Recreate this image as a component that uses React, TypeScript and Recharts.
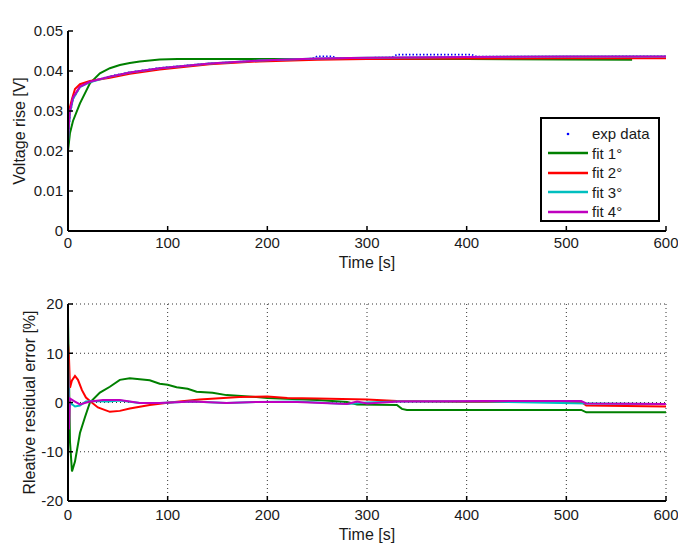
import { LineChart, Line, XAxis, YAxis, CartesianGrid, Legend } from 'recharts';

const FONT = '"Liberation Sans", Arial, sans-serif';
const INK = '#1a1a1a';

const title = 'Thinergy - Fit test - Discharge 1C 10%';
const xTicks = [0, 100, 200, 300, 400, 500, 600];
const voltTicks = [0, 0.01, 0.02, 0.03, 0.04, 0.05];
const errTicks = [-20, -10, 0, 10, 20];

const seriesNames = ['exp data', 'fit 1°', 'fit 2°', 'fit 3°', 'fit 4°'];
const seriesColors = ['#0000ff', '#008000', '#ff0000', '#00bfbf', '#bf00bf'];

// ---- top: voltage rise [V] vs time [s]
const expT = [0, 2, 5, 12, 22, 42, 62, 92, 142, 192, 245, 250, 265, 270, 325, 330, 405, 410, 500, 600];
const expV = [0.022, 0.029, 0.033, 0.036, 0.0373, 0.0387, 0.0397, 0.0408, 0.0419, 0.0426, 0.0431, 0.0437, 0.0437, 0.0432, 0.0434, 0.0441, 0.0441, 0.0436, 0.0436, 0.0437];

const fit1T = [0, 2, 5, 12, 22, 32, 42, 52, 62, 72, 92, 110, 150, 200, 300, 400, 500, 566];
const fit1V = [0.02, 0.0245, 0.0275, 0.0319, 0.0369, 0.0394, 0.0407, 0.0415, 0.042, 0.0424, 0.0429, 0.043, 0.043, 0.043, 0.043, 0.043, 0.0429, 0.0428];

const fit2T = [0, 1, 2, 4, 7, 12, 22, 42, 62, 92, 142, 192, 250, 300, 400, 500, 600];
const fit2V = [0.025, 0.029, 0.031, 0.033, 0.0355, 0.0367, 0.0375, 0.0383, 0.0393, 0.0404, 0.0417, 0.0424, 0.0428, 0.043, 0.0431, 0.0432, 0.0432];

const fit3T = [0, 1, 2, 5, 12, 22, 42, 62, 92, 142, 192, 250, 300, 400, 500, 600];
const fit3V = [0.022, 0.0265, 0.0295, 0.033, 0.036, 0.0372, 0.0386, 0.0396, 0.0407, 0.0419, 0.0426, 0.0431, 0.0433, 0.0435, 0.0436, 0.0436];

const fit4T = [0, 1, 2, 5, 12, 22, 42, 62, 92, 142, 192, 250, 300, 400, 500, 600];
const fit4V = [0.0225, 0.027, 0.03, 0.0334, 0.0361, 0.0373, 0.0386, 0.0396, 0.0407, 0.0419, 0.0426, 0.0431, 0.0433, 0.0435, 0.0436, 0.0436];

// ---- bottom: relative residual error [%] vs time [s]
const err1T = [0, 1, 2, 4, 7, 12, 17, 22, 32, 42, 52, 62, 72, 82, 92, 100, 109, 120, 129, 145, 159, 189, 200, 250, 280, 290, 330, 335, 340, 515, 520, 600];
const err1V = [17, 5, -8, -14, -12, -6.2, -3, 0, 2, 3.2, 4.6, 4.9, 4.7, 4.5, 3.8, 3.6, 3.1, 2.8, 2.2, 2.0, 1.5, 1.1, 0.9, 0.5, 0.1, -0.4, -0.5, -1.3, -1.5, -1.5, -2.0, -2.0];

const err2T = [0, 1, 2, 4, 7, 10, 14, 18, 22, 30, 42, 52, 62, 82, 102, 132, 172, 200, 220, 250, 300, 330, 400, 515, 520, 600];
const err2V = [12, 9, 3, 4.5, 5.4, 4.6, 2.5, 1.0, 0.3, -1.0, -1.9, -1.7, -1.2, -0.5, 0, 0.6, 1.1, 1.2, 0.9, 0.8, 0.6, 0.3, 0.1, 0.1, -0.6, -0.8];

const err3T = [0, 1, 3, 7, 12, 18, 25, 40, 52, 72, 92, 125, 159, 189, 230, 280, 300, 330, 420, 520, 600];
const err3V = [10.5, -1, -0.2, -0.8, -0.6, 0.2, 0.3, 0.2, 0.4, -0.1, -0.1, 0.2, -0.1, 0.1, 0.2, -0.3, 0, 0.2, 0.2, -0.2, -0.3];

const err4T = [0, 1, 2, 7, 12, 22, 35, 52, 72, 92, 125, 159, 189, 230, 280, 290, 300, 332, 420, 515, 520, 600];
const err4V = [6.5, -5.5, 0.8, 0.2, -0.4, 0.2, 0.5, 0.5, -0.1, -0.1, 0.2, -0.1, 0.1, 0.1, -0.3, 0.2, -0.2, 0.2, 0.3, 0.3, -0.2, -0.3];

const pts = (t: number[], v: number[]) => t.map((x, i) => ({ t: x, v: v[i] }));

const topSeries = [pts(expT, expV), pts(fit1T, fit1V), pts(fit2T, fit2V), pts(fit3T, fit3V), pts(fit4T, fit4V)];
const bottomSeries = [pts(err1T, err1V), pts(err2T, err2V), pts(err3T, err3V), pts(err4T, err4V)];

const tickStyle = { fill: INK, fontSize: 15, fontFamily: FONT };
const axisLine = { stroke: '#000', strokeWidth: 2 };
const tickLine = { stroke: '#000', strokeWidth: 1.5 };

function LegendBox() {
  return (
    <div
      style={{
        width: 120,
        height: 105,
        boxSizing: 'border-box',
        border: '2px solid #000',
        background: '#fff',
        paddingTop: 5,
        fontFamily: FONT,
        fontSize: 15,
        color: INK,
      }}
    >
      {seriesNames.map((name, i) => (
        <div key={name} style={{ display: 'flex', alignItems: 'center', height: 19.5 }}>
          <svg width={50} height={10} style={{ display: 'block', flex: 'none' }}>
            {i === 0 ? (
              <circle cx={26} cy={5} r={1.3} fill={seriesColors[i]} />
            ) : (
              <line x1={6} x2={46} y1={5} y2={5} stroke={seriesColors[i]} strokeWidth={2.5} />
            )}
          </svg>
          <span style={{ lineHeight: '19.5px' }}>{name}</span>
        </div>
      ))}
    </div>
  );
}

export default function App() {
  return (
    <div style={{ position: 'absolute', left: 0, top: 0, width: 678, height: 544, background: '#fff' }}>
      <div style={{ position: 'absolute', left: 0, top: 0 }}>
        <LineChart width={678} height={290} margin={{ top: 31, right: 12, bottom: 0, left: 0 }}>
          <XAxis
            xAxisId="b"
            dataKey="t"
            type="number"
            domain={[0, 600]}
            ticks={xTicks}
            height={59}
            tickSize={-5}
            tickMargin={11}
            tick={tickStyle}
            axisLine={axisLine}
            tickLine={tickLine}
            label={{ value: 'Time [s]', position: 'insideBottom', offset: 22, fill: INK, fontSize: 16, fontFamily: FONT }}
          />
          <XAxis
            xAxisId="t"
            orientation="top"
            dataKey="t"
            type="number"
            domain={[0, 600]}
            ticks={xTicks}
            height={0}
            tickSize={-5}
            tick={false}
            axisLine={axisLine}
            tickLine={tickLine}
            label={{ value: title, position: 'top', offset: 11.5, fill: INK, fontSize: 15.5, fontFamily: FONT }}
          />
          <YAxis
            yAxisId="l"
            type="number"
            domain={[0, 0.05]}
            ticks={voltTicks}
            width={68}
            tickSize={-5}
            tickMargin={10}
            tick={tickStyle}
            axisLine={axisLine}
            tickLine={tickLine}
            label={{ value: 'Voltage rise [V]', angle: -90, position: 'insideLeft', offset: 19, fill: INK, fontSize: 16, fontFamily: FONT, style: { textAnchor: 'middle' } }}
          />
          <YAxis
            yAxisId="r"
            orientation="right"
            type="number"
            domain={[0, 0.05]}
            ticks={voltTicks}
            width={0}
            tickSize={-5}
            tick={false}
            axisLine={axisLine}
            tickLine={tickLine}
          />
          {topSeries.map((d, i) => (
            <Line
              key={seriesNames[i]}
              xAxisId="b"
              yAxisId="l"
              data={d}
              dataKey="v"
              name={seriesNames[i]}
              stroke={seriesColors[i]}
              strokeWidth={i === 0 ? 1.6 : 2}
              strokeDasharray={i === 0 ? '1.5 2' : undefined}
              dot={false}
              activeDot={false}
              isAnimationActive={false}
            />
          ))}
          <Legend
            layout="vertical"
            align="center"
            verticalAlign="middle"
            content={() => <LegendBox />}
            wrapperStyle={{ left: 540, top: 117, width: 120, height: 105 }}
          />
        </LineChart>
      </div>

      <div style={{ position: 'absolute', left: 0, top: 290 }}>
        <LineChart width={678} height={254} margin={{ top: 14, right: 12, bottom: 0, left: 0 }}>
          <CartesianGrid xAxisId="b" yAxisId="l" stroke="#333" strokeDasharray="1 3" strokeWidth={1} />
          <XAxis
            xAxisId="b"
            dataKey="t"
            type="number"
            domain={[0, 600]}
            ticks={xTicks}
            height={43}
            tickSize={-5}
            tickMargin={13}
            tick={tickStyle}
            axisLine={axisLine}
            tickLine={tickLine}
            label={{ value: 'Time [s]', position: 'insideBottom', offset: 4.5, fill: INK, fontSize: 16, fontFamily: FONT }}
          />
          <XAxis
            xAxisId="t"
            orientation="top"
            dataKey="t"
            type="number"
            domain={[0, 600]}
            ticks={xTicks}
            height={0}
            tickSize={-5}
            tick={false}
            axisLine={axisLine}
            tickLine={tickLine}
          />
          <YAxis
            yAxisId="l"
            type="number"
            domain={[-20, 20]}
            ticks={errTicks}
            width={68}
            tickSize={-5}
            tickMargin={10}
            tick={tickStyle}
            axisLine={axisLine}
            tickLine={tickLine}
            label={{ value: 'Rleative residual error [%]', angle: -90, position: 'insideLeft', offset: 29, fill: INK, fontSize: 16, fontFamily: FONT, style: { textAnchor: 'middle' } }}
          />
          <YAxis
            yAxisId="r"
            orientation="right"
            type="number"
            domain={[-20, 20]}
            ticks={errTicks}
            width={0}
            tickSize={-5}
            tick={false}
            axisLine={axisLine}
            tickLine={tickLine}
          />
          {bottomSeries.map((d, i) => (
            <Line
              key={seriesNames[i + 1]}
              xAxisId="b"
              yAxisId="l"
              data={d}
              dataKey="v"
              name={seriesNames[i + 1]}
              stroke={seriesColors[i + 1]}
              strokeWidth={2}
              dot={false}
              activeDot={false}
              isAnimationActive={false}
            />
          ))}
        </LineChart>
      </div>
    </div>
  );
}
